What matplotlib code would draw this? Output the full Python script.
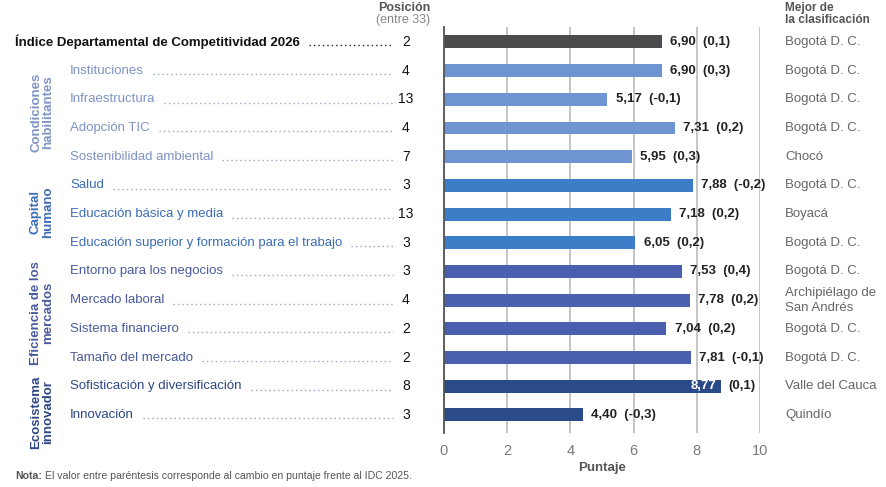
import matplotlib
matplotlib.use("Agg")
import matplotlib.pyplot as plt
import matplotlib.transforms as mtrans
from matplotlib.lines import Line2D

plt.rcParams['font.family'] = ['Liberation Sans', 'DejaVu Sans']

# data
categories = ["Índice Departamental de Competitividad 2026", "Instituciones", "Infraestructura",
              "Adopción TIC", "Sostenibilidad ambiental", "Salud", "Educación básica y media",
              "Educación superior y formación para el trabajo", "Entorno para los negocios",
              "Mercado laboral", "Sistema financiero", "Tamaño del mercado",
              "Sofisticación y diversificación", "Innovación"]
groups = ["IDC", "CH", "CH", "CH", "CH", "KH", "KH", "KH", "EM", "EM", "EM", "EM", "EI", "EI"]
scores = [6.90, 6.90, 5.17, 7.31, 5.95, 7.88, 7.18, 6.05, 7.53, 7.78, 7.04, 7.81, 8.77, 4.40]
changes = [0.1, 0.3, -0.1, 0.2, 0.3, -0.2, 0.2, 0.2, 0.4, 0.2, 0.2, -0.1, 0.1, -0.3]
positions = [2, 4, 13, 4, 7, 3, 13, 3, 3, 4, 2, 2, 8, 3]
best = ["Bogotá D. C.", "Bogotá D. C.", "Bogotá D. C.", "Bogotá D. C.", "Chocó", "Bogotá D. C.",
        "Boyacá", "Bogotá D. C.", "Bogotá D. C.", "Archipiélago de\nSan Andrés", "Bogotá D. C.",
        "Bogotá D. C.", "Valle del Cauca", "Quindío"]
group_names = {"CH": "Condiciones\nhabilitantes", "KH": "Capital\nhumano",
               "EM": "Eficiencia de los\nmercados", "EI": "Ecosistema\ninnovador"}
xticks = [0, 2, 4, 6, 8, 10]

bar_colors = {"IDC": "#4b4b4d", "CH": "#6e95d2", "KH": "#3b7dc6", "EM": "#4a5fae", "EI": "#2b4a8a"}
text_colors = {"IDC": "#111111", "CH": "#7e93c4", "KH": "#3b6db3", "EM": "#4a5a9c", "EI": "#2d4785"}
# vertical centre of each rotated group label, in pixels from the top
group_label_y = {"CH": 112, "KH": 212, "EM": 313, "EI": 412}

W, H = 886, 487
fig = plt.figure(figsize=(W / 100, H / 100), dpi=100)
ax = fig.add_axes([444 / W, 1 - 433 / H, 316 / W, 406 / H])

def fx(px):
    return px / W

def fy(py):
    return 1 - py / H

rows = list(range(len(categories)))
ax.barh(rows, scores, height=0.45, color=[bar_colors[g] for g in groups], zorder=3)
ax.set_ylim(13.63, -0.52)
ax.set_xlim(0, 10)
ax.set_xticks(xticks)
ax.set_xticklabels([str(t) for t in xticks], color="#7a7a7a", fontsize=10.5)
ax.tick_params(axis="x", length=0, pad=8)
ax.set_yticks([])
ax.grid(axis="x", color="#b5b5b5", lw=1.1, zorder=0)
for s in ["top", "right", "bottom"]:
    ax.spines[s].set_visible(False)
ax.spines["left"].set_color("#555555")
ax.spines["left"].set_linewidth(1.3)
ax.spines["left"].set_zorder(4)
ax.set_xlabel("Puntaje", fontsize=9.5, fontweight="bold", color="#555555", labelpad=3)

# value labels
for i, (s, c) in enumerate(zip(scores, changes)):
    val = f"{s:.2f}".replace(".", ",")
    chg = f"({c:.1f})".replace(".", ",")
    if s >= 8.5:
        ax.annotate(val, (s, i), xytext=(-3, 0), textcoords="offset points", ha="right",
                    va="center", fontsize=9.5, fontweight="bold", color="white", zorder=5)
        ax.annotate(chg, (s, i), xytext=(5, 0), textcoords="offset points", ha="left",
                    va="center", fontsize=9.5, fontweight="bold", color="#222222")
    else:
        ax.annotate(val + "  " + chg, (s, i), xytext=(6, 0), textcoords="offset points",
                    ha="left", va="center", fontsize=9.5, fontweight="bold", color="#222222")

tr = mtrans.blended_transform_factory(fig.transFigure, ax.transData)

# left labels and positions
label_texts = []
for i, (cat, g, p) in enumerate(zip(categories, groups, positions)):
    if g == "IDC":
        t = fig.text(fx(15), i, cat, transform=tr, ha="left", va="center", fontsize=9.5,
                     fontweight="bold", color="#111111")
    else:
        t = fig.text(fx(70), i, cat, transform=tr, ha="left", va="center", fontsize=9.5,
                     color=text_colors[g])
    label_texts.append(t)
    fig.text(fx(406), i, str(p), transform=tr, ha="center", va="center", fontsize=10,
             color="#111111")

# right column
for i, b in enumerate(best):
    fig.text(fx(785), i, b, transform=tr, ha="left", va="center", fontsize=9.5,
             color="#666666", linespacing=1.3)

# group labels
for g, name in group_names.items():
    fig.text(fx(42), fy(group_label_y[g]), name, rotation=90, ha="center", va="center",
             fontsize=9.5, fontweight="bold", color=text_colors[g], multialignment="center",
             linespacing=1.0)

# headers
fig.text(fx(430), fy(8), "Posición", ha="right", va="center", fontsize=9,
         fontweight="bold", color="#555555")
fig.text(fx(430), fy(20), "(entre 33)", ha="right", va="center", fontsize=9, color="#888888")
fig.text(fx(785), fy(8), "Mejor de", ha="left", va="center", fontsize=8.5,
         fontweight="bold", color="#555555")
fig.text(fx(785), fy(20), "la clasificación", ha="left", va="center", fontsize=8.5,
         fontweight="bold", color="#555555")

# note
nota = fig.text(fx(15), fy(476), "Nota:", ha="left", va="center", fontsize=7.6,
                fontweight="bold", color="#555555")
fig.canvas.draw()
renderer = fig.canvas.get_renderer()
bb = nota.get_window_extent(renderer)
fig.text((bb.x1 + 3) / W, fy(476), "El valor entre paréntesis corresponde al cambio en puntaje frente al IDC 2025.",
         ha="left", va="center", fontsize=7.6, color="#555555")

# dotted leaders
for i, t in enumerate(label_texts):
    bb = t.get_window_extent(renderer)
    col = "#222222" if groups[i] == "IDC" else "#98a4c2"
    fig.add_artist(Line2D([(bb.x1 + 9) / W, fx(393)], [i + 0.12, i + 0.12], transform=tr,
                          color=col, lw=1.0, linestyle=(0, (1, 2.2))))

fig.savefig("out.png", dpi=100)
